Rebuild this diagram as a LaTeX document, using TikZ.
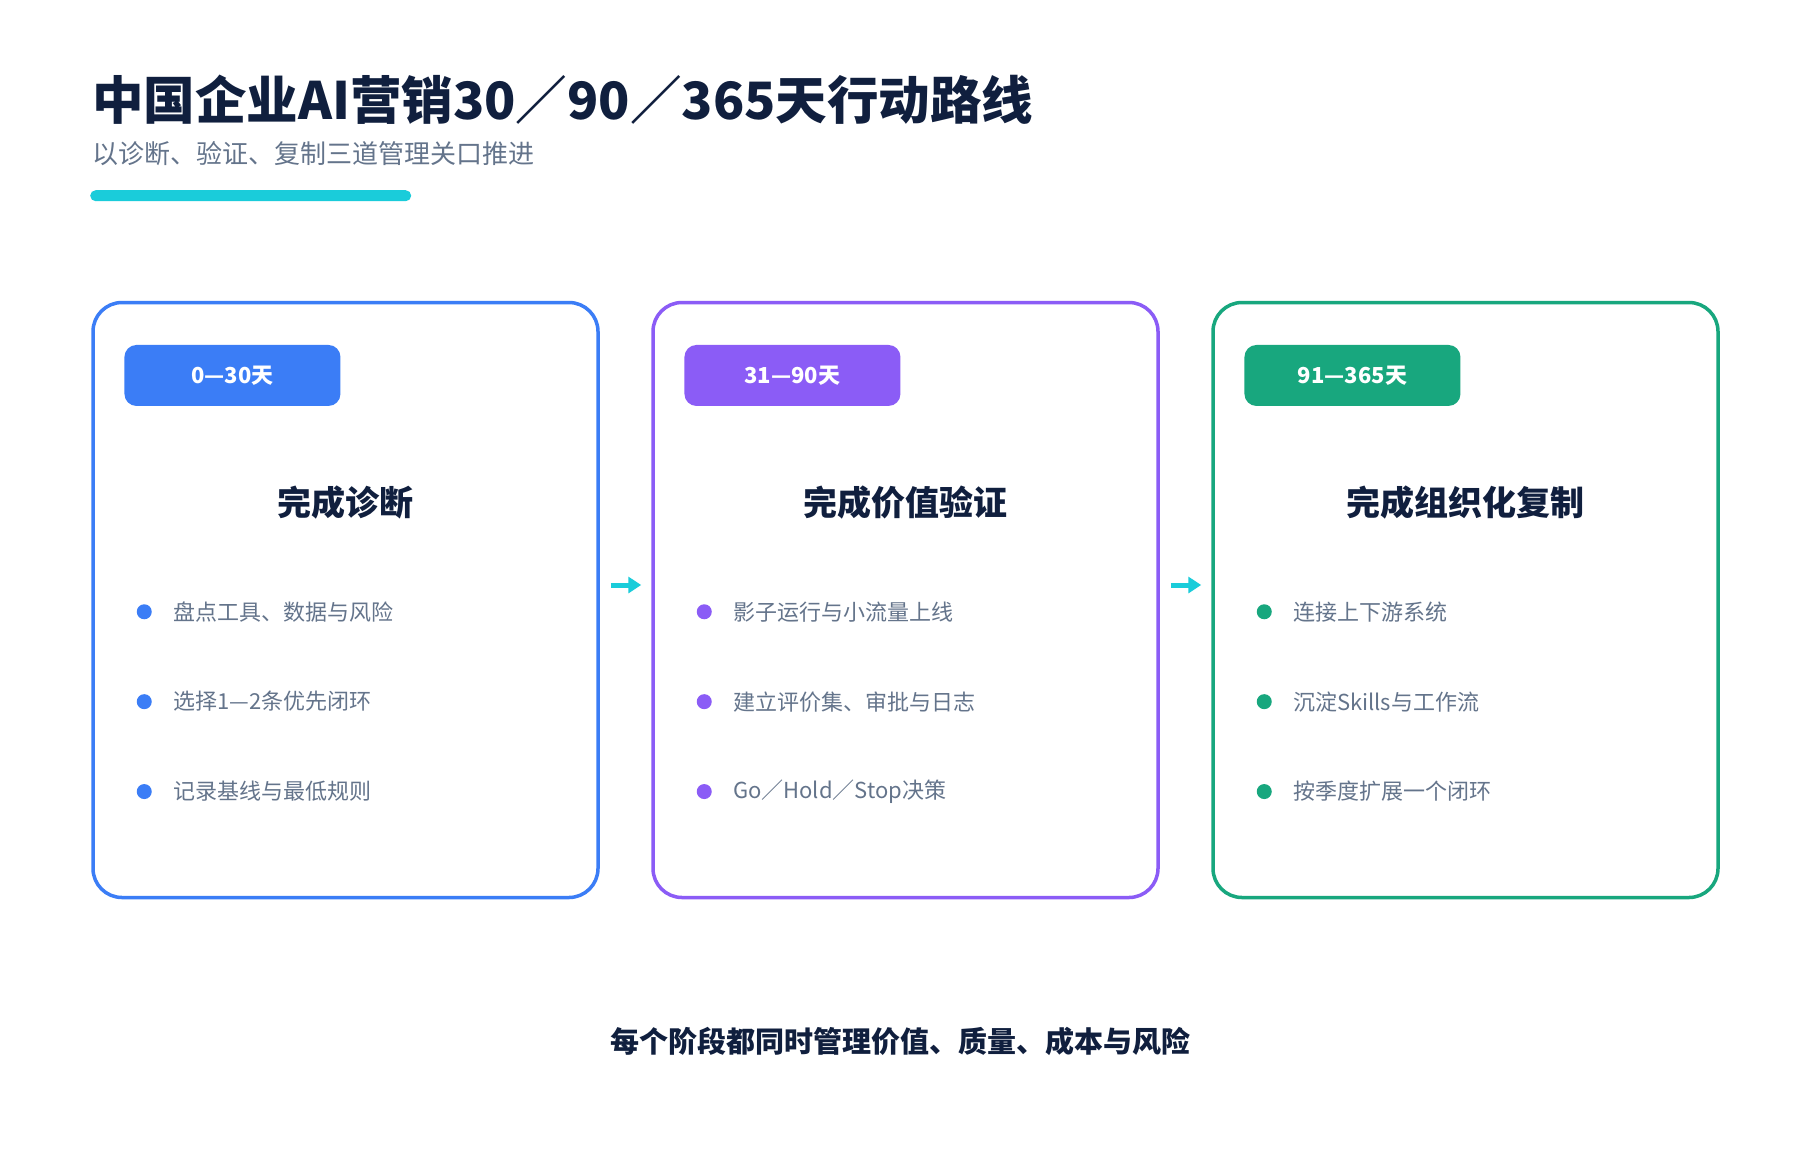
\documentclass[tikz,border=0pt]{standalone}
\usepackage{fontspec}
\setmainfont{Noto Sans CJK SC}
\usepackage{tikz}
\usetikzlibrary{arrows.meta,positioning,calc}

\definecolor{ink}{RGB}{16,31,62}
\definecolor{muted}{RGB}{100,116,139}
\definecolor{accent}{RGB}{26,204,218}
\definecolor{phaseblue}{RGB}{59,125,246}
\definecolor{phasepurple}{RGB}{139,92,246}
\definecolor{phasegreen}{RGB}{24,167,126}

\begin{document}
\begin{tikzpicture}[
  x=1pt, y=-1pt,
  card/.style={rectangle, rounded corners=29pt, line width=3.5pt, fill=white,
               minimum width=505pt, minimum height=595pt},
  badge/.style={rectangle, rounded corners=12pt, text=white, anchor=north west,
                font=\fontsize{22}{26}\selectfont\bfseries,
                minimum width=216pt, minimum height=61pt},
  heading/.style={font=\fontsize{34}{40}\selectfont\bfseries, text=ink},
  dot/.style={circle, inner sep=0pt, minimum size=15pt},
  item/.style={font=\fontsize{22}{26}\selectfont, text=muted, inner sep=0pt, anchor=west},
  flow/.style={-{Triangle[length=13pt,width=16pt]}, line width=5pt, draw=accent,
               shorten <=11pt, shorten >=10pt}
]
\fill[white] (0,0) rectangle (1800,1160);
\useasboundingbox (0,0) rectangle (1800,1160);

% header
\node[anchor=base west, inner sep=0pt, text=ink, font=\fontsize{51.5}{60}\selectfont\bfseries]
  (title) at (92,119) {中国企业AI营销30／90／365天行动路线};
\node[anchor=base west, inner sep=0pt, text=muted, font=\fontsize{26}{30}\selectfont]
  (subtitle) at (92,163) {以诊断、验证、复制三道管理关口推进};
\node[rectangle, fill=accent, rounded corners=5.5pt, inner sep=0pt, anchor=north west,
      minimum width=321pt, minimum height=11pt] (rule) at (90,190) {};

% phase cards
\node[card, draw=phaseblue] (p1) at (345.5,600) {};
\node[card, draw=phasepurple] (p2) at (905.5,600) {};
\node[card, draw=phasegreen] (p3) at (1465.5,600) {};

\node[badge, fill=phaseblue] (b1) at ($(p1.north west)+(33,44)$) {0—30天};
\node[badge, fill=phasepurple] (b2) at ($(p2.north west)+(33,44)$) {31—90天};
\node[badge, fill=phasegreen] (b3) at ($(p3.north west)+(33,44)$) {91—365天};

\node[heading] (h1) at ($(p1.north)+(0,202)$) {完成诊断};
\node[heading] (h2) at ($(p2.north)+(0,202)$) {完成价值验证};
\node[heading] (h3) at ($(p3.north)+(0,202)$) {完成组织化复制};

% items, phase 1
\node[dot, fill=phaseblue] (d1a) at ($(p1.north west)+(53,311)$) {};
\node[dot, fill=phaseblue, below=74.5pt of d1a] (d1b) {};
\node[dot, fill=phaseblue, below=74.5pt of d1b] (d1c) {};
\node[item, right=21pt of d1a] (t1a) {盘点工具、数据与风险};
\node[item, right=21pt of d1b] (t1b) {选择1—2条优先闭环};
\node[item, right=21pt of d1c] (t1c) {记录基线与最低规则};

% items, phase 2
\node[dot, fill=phasepurple] (d2a) at ($(p2.north west)+(53,311)$) {};
\node[dot, fill=phasepurple, below=74.5pt of d2a] (d2b) {};
\node[dot, fill=phasepurple, below=74.5pt of d2b] (d2c) {};
\node[item, right=21pt of d2a] (t2a) {影子运行与小流量上线};
\node[item, right=21pt of d2b] (t2b) {建立评价集、审批与日志};
\node[item, right=21pt of d2c] (t2c) {Go／Hold／Stop决策};

% items, phase 3
\node[dot, fill=phasegreen] (d3a) at ($(p3.north west)+(53,311)$) {};
\node[dot, fill=phasegreen, below=74.5pt of d3a] (d3b) {};
\node[dot, fill=phasegreen, below=74.5pt of d3b] (d3c) {};
\node[item, right=21pt of d3a] (t3a) {连接上下游系统};
\node[item, right=21pt of d3b] (t3b) {沉淀Skills与工作流};
\node[item, right=21pt of d3c] (t3c) {按季度扩展一个闭环};

\draw[flow] ([yshift=15pt]p1.east) -- ([yshift=15pt]p2.west);
\draw[flow] ([yshift=15pt]p2.east) -- ([yshift=15pt]p3.west);

\node[text=ink, font=\fontsize{29}{34}\selectfont\bfseries] (note) at (900,1041)
  {每个阶段都同时管理价值、质量、成本与风险};
\end{tikzpicture}
\end{document}
